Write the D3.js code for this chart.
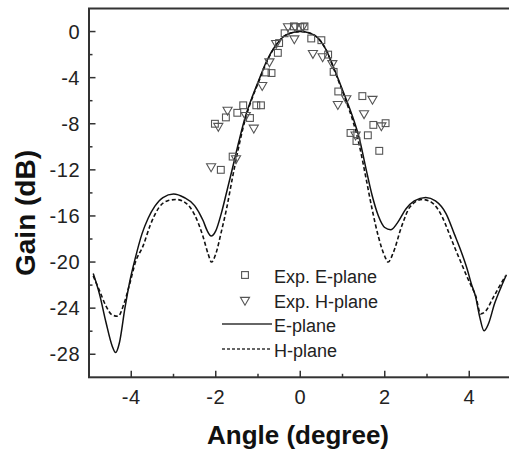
<!DOCTYPE html>
<html>
<head>
<meta charset="utf-8">
<script src="https://cdn.jsdelivr.net/npm/d3@7"></script>
<style>
  body { margin: 0; background: #fff; }
  svg { display: block; font-family: "Liberation Sans", Arial, sans-serif; }
  .tick-label { font-size: 20px; fill: #222; letter-spacing: 0.5px; }
  .axis-title { font-weight: bold; fill: #111; }
  .legend-text { font-size: 18px; fill: #222; }
</style>
</head>
<body>
<svg></svg>
<script>

// simulated E-plane pattern (solid)
var eAngle = [-4.9, -4.75, -4.6, -4.45, -4.37, -4.28, -4.15, -4.03, -3.9, -3.75, -3.6, -3.44, -3.25, -3.0, -2.75, -2.5, -2.3, -2.2, -2.11, -2.0, -1.87, -1.74, -1.6, -1.45, -1.3, -1.15, -1.0, -0.8, -0.6, -0.4, -0.2, 0, 0.2, 0.4, 0.6, 0.8, 0.95, 1.1, 1.25, 1.4, 1.55, 1.7, 1.85, 2.0, 2.14, 2.3, 2.5, 2.7, 2.97, 3.2, 3.45, 3.65, 3.8, 3.95, 4.05, 4.15, 4.25, 4.35, 4.45, 4.6, 4.75, 4.88];
var eGain = [-21.0, -22.8, -25.2, -27.3, -27.85, -27.0, -24.0, -21.6, -19.6, -17.6, -16.2, -15.15, -14.4, -14.1, -14.4, -15.1, -16.4, -17.3, -17.75, -17.3, -15.8, -13.9, -11.8, -9.5, -7.4, -5.8, -4.4, -2.6, -1.3, -0.45, -0.1, 0, -0.1, -0.5, -1.5, -3.2, -4.6, -6.0, -7.5, -9.3, -11.8, -14.2, -16.0, -17.0, -17.2, -16.6, -15.4, -14.7, -14.4, -14.7, -15.8, -17.6, -19.0, -20.6, -21.9, -23.0, -24.8, -25.97, -25.4, -23.6, -22.2, -21.1];

// simulated H-plane pattern (dashed)
var hAngle = [-4.9, -4.75, -4.6, -4.45, -4.31, -4.18, -4.03, -3.9, -3.72, -3.55, -3.35, -3.15, -2.93, -2.7, -2.5, -2.3, -2.18, -2.1, -2.0, -1.87, -1.74, -1.6, -1.45, -1.3, -1.15, -1.0, -0.8, -0.6, -0.4, -0.2, 0, 0.2, 0.4, 0.6, 0.8, 0.95, 1.1, 1.25, 1.4, 1.55, 1.7, 1.85, 2.0, 2.08, 2.2, 2.4, 2.6, 2.89, 3.1, 3.35, 3.5, 3.64, 3.8, 3.95, 4.05, 4.15, 4.27, 4.4, 4.55, 4.7, 4.86];
var hGain = [-21.2, -22.5, -23.8, -24.6, -24.7, -23.7, -21.8, -20.0, -18.6, -16.8, -15.3, -14.7, -14.57, -14.9, -15.9, -17.8, -19.3, -20.0, -19.3, -17.4, -15.3, -12.6, -9.9, -7.6, -5.9, -4.5, -2.7, -1.3, -0.45, -0.1, 0, -0.1, -0.5, -1.5, -3.3, -4.7, -6.2, -7.8, -9.9, -12.6, -15.4, -17.8, -19.5, -20.0, -19.2, -16.9, -15.2, -14.57, -14.8, -16.0, -17.3, -18.6, -20.0, -21.3, -22.1, -22.9, -24.5, -24.2, -23.2, -22.2, -21.2];

// measured E-plane (squares)
var expEAngle = [-2.02, -1.88, -1.76, -1.60, -1.49, -1.35, -1.19, -1.04, -0.93, -0.81, -0.68, -0.53, -0.50, -0.37, -0.15, 0.0, 0.10, 0.26, 0.50, 0.66, 0.79, 0.90, 1.19, 1.33, 1.47, 1.60, 1.73, 1.87, 2.02];
var expEGain = [-8.0, -12.0, -7.45, -10.85, -7.05, -6.4, -7.5, -6.4, -6.4, -3.55, -3.6, -1.85, -1.0, -0.15, 0.45, 0.4, 0.45, -0.6, -0.75, -2.0, -3.5, -5.2, -8.8, -9.5, -5.6, -9.0, -8.1, -10.35, -7.95];

// measured H-plane (triangles)
var expHAngle = [-2.11, -1.94, -1.72, -1.52, -1.29, -1.10, -0.90, -0.73, -0.57, -0.29, -0.14, -0.12, 0.06, 0.30, 0.53, 0.76, 0.89, 1.09, 1.31, 1.51, 1.71, 1.92];
var expHGain = [-11.7, -8.2, -6.8, -11.0, -7.25, -8.35, -4.65, -2.6, -1.0, 0.45, -0.6, 0.45, 0.45, -1.87, -2.16, -2.75, -6.3, -5.8, -8.95, -7.1, -5.85, -8.15];

var xTicks = [-4, -2, 0, 2, 4];
var xMinor = [-3, -1, 1, 3];
var yTicks = [0, -4, -8, -12, -16, -20, -24, -28];
var yMinor = [-2, -6, -10, -14, -18, -22, -26];

var legendLabels = ["Exp. E-plane", "Exp. H-plane", "E-plane", "H-plane"];

var svg = d3.select('svg')
   .attr('width', 509)
   .attr('height', 450);

var x = d3.scaleLinear().domain([-5, 5]).range([89, 511.5]);
var y = d3.scaleLinear().domain([-30, 2]).range([377.3, 8.5]);

var axisColor = '#333';

// frame
svg.append('rect')
   .attr('x', x(-5))
   .attr('y', y(2))
   .attr('width', x(5) - x(-5))
   .attr('height', y(-30) - y(2))
   .attr('fill', 'none')
   .attr('stroke', axisColor)
   .attr('stroke-width', 2);

// ticks (inward)
var ticks = svg.append('g');
ticks.selectAll('.xmaj').data(xTicks).enter().append('line')
   .attr('x1', (d) => x(d)).attr('x2', (d) => x(d))
   .attr('y1', y(-30)).attr('y2', y(-30) - 6.5)
   .attr('stroke', axisColor).attr('stroke-width', 1.5);
ticks.selectAll('.xmin').data(xMinor).enter().append('line')
   .attr('x1', (d) => x(d)).attr('x2', (d) => x(d))
   .attr('y1', y(-30)).attr('y2', y(-30) - 3.5)
   .attr('stroke', axisColor).attr('stroke-width', 1.5);
ticks.selectAll('.ymaj').data(yTicks).enter().append('line')
   .attr('x1', x(-5)).attr('x2', x(-5) + 6.5)
   .attr('y1', (d) => y(d)).attr('y2', (d) => y(d))
   .attr('stroke', axisColor).attr('stroke-width', 1.5);
ticks.selectAll('.ymin').data(yMinor).enter().append('line')
   .attr('x1', x(-5)).attr('x2', x(-5) + 3.5)
   .attr('y1', (d) => y(d)).attr('y2', (d) => y(d))
   .attr('stroke', axisColor).attr('stroke-width', 1.5);

// tick labels
svg.append('g').selectAll('text').data(xTicks).enter().append('text')
   .attr('class', 'tick-label')
   .attr('x', (d) => x(d))
   .attr('y', y(-30) + 27)
   .attr('text-anchor', 'middle')
   .text((d) => d);

svg.append('g').selectAll('text').data(yTicks).enter().append('text')
   .attr('class', 'tick-label')
   .attr('x', x(-5) - 9)
   .attr('y', (d) => y(d) + 7)
   .attr('text-anchor', 'end')
   .text((d) => d);

// axis titles
svg.append('text')
   .attr('class', 'axis-title')
   .attr('x', 298)
   .attr('y', 444)
   .attr('text-anchor', 'middle')
   .style('font-size', '26px')
   .text('Angle (degree)');

svg.append('text')
   .attr('class', 'axis-title')
   .attr('transform', 'translate(35,213) rotate(-90)')
   .attr('text-anchor', 'middle')
   .style('font-size', '28px')
   .text('Gain (dB)');

// clip to plot area
svg.append('clipPath').attr('id', 'plot')
   .append('rect')
   .attr('x', x(-5)).attr('y', y(2))
   .attr('width', x(5) - x(-5)).attr('height', y(-30) - y(2));

var plot = svg.append('g').attr('clip-path', 'url(#plot)');

var line = d3.line()
   .x((d) => x(d[0]))
   .y((d) => y(d[1]))
   .curve(d3.curveMonotoneX);

var eData = eAngle.map((a, i) => [a, eGain[i]]);
var hData = hAngle.map((a, i) => [a, hGain[i]]);

plot.append('path')
   .datum(hData)
   .attr('d', line)
   .attr('fill', 'none')
   .attr('stroke', '#111')
   .attr('stroke-width', 1.6)
   .attr('stroke-dasharray', '4,2.5');

plot.append('path')
   .datum(eData)
   .attr('d', line)
   .attr('fill', 'none')
   .attr('stroke', '#111')
   .attr('stroke-width', 1.5);

var markColor = '#555';
var sq = 6.8;

plot.selectAll('.sq')
   .data(expEAngle.map((a, i) => [a, expEGain[i]]))
   .enter().append('rect')
   .attr('x', (d) => x(d[0]) - sq / 2)
   .attr('y', (d) => y(d[1]) - sq / 2)
   .attr('width', sq)
   .attr('height', sq)
   .attr('fill', 'none')
   .attr('stroke', markColor)
   .attr('stroke-width', 1.1);

var tri = d3.symbol().type(d3.symbolTriangle).size(36);

plot.selectAll('.tri')
   .data(expHAngle.map((a, i) => [a, expHGain[i]]))
   .enter().append('path')
   .attr('d', tri)
   .attr('transform', (d) => 'translate(' + x(d[0]) + ',' + y(d[1]) + ') rotate(180)')
   .attr('fill', 'none')
   .attr('stroke', markColor)
   .attr('stroke-width', 1.1);

// legend
var legend = svg.append('g');
var legendY = [275, 300, 324, 349];

legend.append('rect')
   .attr('x', 245 - sq / 2).attr('y', legendY[0] - sq / 2)
   .attr('width', sq).attr('height', sq)
   .attr('fill', 'none').attr('stroke', markColor).attr('stroke-width', 1.1);

legend.append('path')
   .attr('d', tri)
   .attr('transform', 'translate(245,' + legendY[1] + ') rotate(180)')
   .attr('fill', 'none').attr('stroke', markColor).attr('stroke-width', 1.1);

legend.append('line')
   .attr('x1', 222).attr('x2', 272)
   .attr('y1', legendY[2]).attr('y2', legendY[2])
   .attr('stroke', '#333').attr('stroke-width', 1.5);

legend.append('line')
   .attr('x1', 222).attr('x2', 272)
   .attr('y1', legendY[3]).attr('y2', legendY[3])
   .attr('stroke', '#333').attr('stroke-width', 1.5)
   .attr('stroke-dasharray', '3,2');

legend.selectAll('text').data(legendLabels).enter().append('text')
   .attr('class', 'legend-text')
   .attr('x', 274)
   .attr('y', (d, i) => legendY[i] + 7.5)
   .text((d) => d);

</script>
</body>
</html>
